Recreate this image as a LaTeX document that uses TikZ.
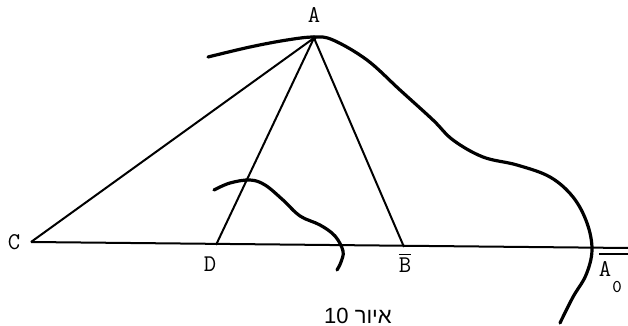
\documentclass[tikz,border=0pt]{standalone}
\usepackage{fontspec}
\newfontfamily\hebfont[Script=Hebrew]{Liberation Sans}
\TeXXeTstate=1
\usepackage{tikz}
\usetikzlibrary{calc,positioning}

\begin{document}
\begin{tikzpicture}[x=0.5pt, y=-0.5pt,
      seg/.style={line width=1pt, color=black},
      arc/.style={line width=1.6pt, color=black, line cap=round},
      lbl/.style={font=\fontsize{12}{14}\selectfont\ttfamily, inner sep=0pt}]

    \useasboundingbox (0,0) rectangle (628,326);

    \coordinate (A) at (314,38);
    \coordinate (C) at (31,242);
    \coordinate (D) at (216,245);
    \coordinate (B) at (404,247);
    \coordinate (E) at (628,248);

    % base line and the three segments from A
    \draw[seg] (C) -- (E);
    \draw[seg] (A) -- (C);
    \draw[seg] (A) -- (D);
    \draw[seg] (A) -- (B);
    \fill (A) circle (2.5);

    % the two curves
    \draw[arc] plot[smooth, tension=0.6] coordinates {
        (208,57) (250,47) (287,40) (314,37) (333,40) (367,60) (400,90)
        (433,120) (453,140) (483,157) (517,165) (550,177) (573,197)
        (587,223) (592,250) (586,275) (573,297) (560,323)};
    \draw[arc] plot[smooth, tension=0.6] coordinates {
        (214,190) (230,183) (250,180) (265,185) (283,200) (300,216)
        (320,225) (335,236) (343,251) (341,262) (337,270)};

    \node[lbl] (la) at (314,15) {A};
    \node[lbl] (lc) at (14,242) {C};
    \node[lbl] (ld) at (210,264) {D};
    \node[lbl] (lb) at (405,263) {$\overline{\mbox{\ttfamily B}}$};
    \node[lbl] (la0) at (605,269) {A};
    \draw[seg, line width=0.7pt] ($(la0.center)+(-6,-15)$) -- ($(la0.center)+(23,-15)$);
    \node[lbl, font=\fontsize{9}{11}\selectfont\ttfamily] (l0) at (617,287) {0};

    \node[font=\fontsize{11}{13}\selectfont\hebfont, inner sep=0pt] (cap) at (358,316)
      {\beginR איור \beginL10\endL\endR};
  \end{tikzpicture}
\end{document}
